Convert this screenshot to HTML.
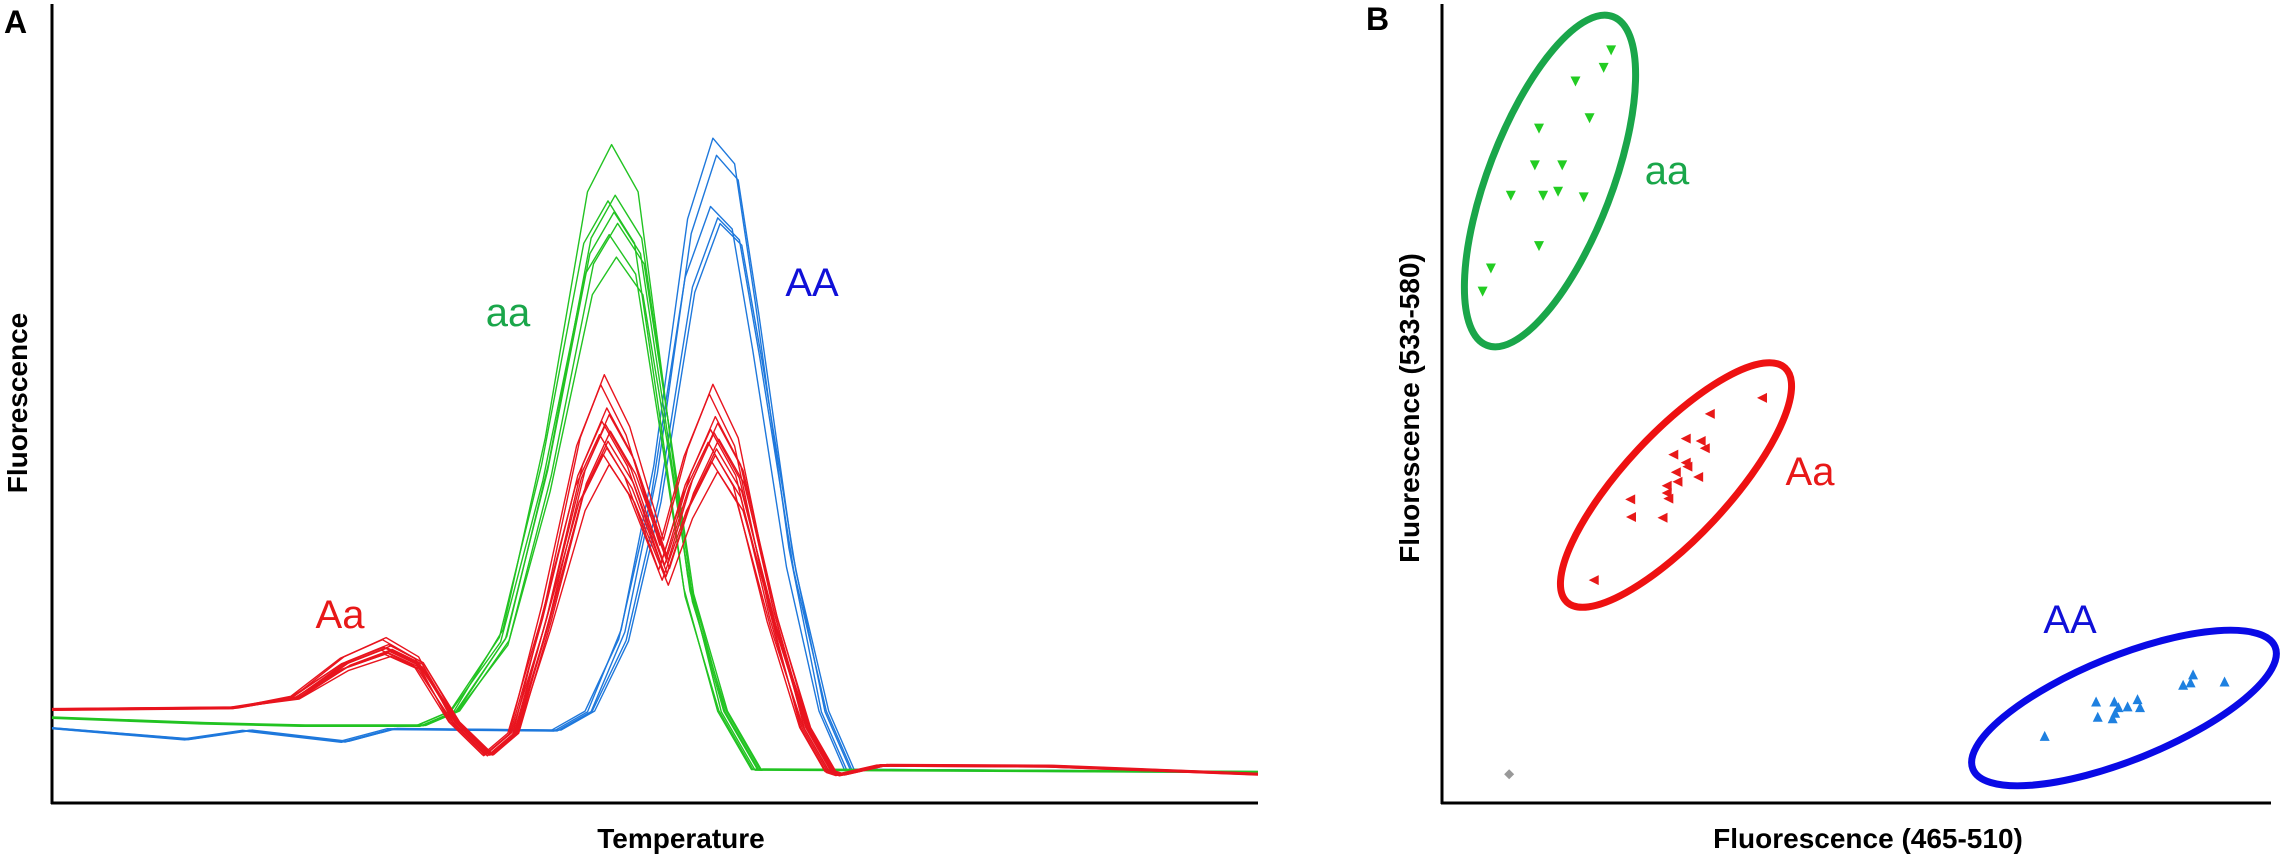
<!DOCTYPE html>
<html><head><meta charset="utf-8"><style>
html,body{margin:0;padding:0;background:#fff;}
svg{display:block;font-family:"Liberation Sans",sans-serif;}
</style></head><body>
<svg id="fig" width="2281" height="855" viewBox="0 0 2281 855">
<g id="pa">
<text x="4" y="33" font-size="32" font-weight="bold">A</text>
<line x1="52" y1="4" x2="52" y2="804" stroke="#000" stroke-width="3"/>
<line x1="51" y1="803" x2="1258" y2="803" stroke="#000" stroke-width="3"/>
<text x="681" y="848" font-size="28" font-weight="bold" text-anchor="middle">Temperature</text>
<text transform="translate(27,403) rotate(-90)" font-size="28" font-weight="bold" text-anchor="middle">Fluorescence</text>
<g id="curves"></g>
<text x="508" y="326" font-size="40" fill="#1aa64a" text-anchor="middle">aa</text>
<text x="812" y="296" font-size="40" fill="#1010d8" text-anchor="middle">AA</text>
<text x="340" y="628" font-size="40" fill="#e81818" text-anchor="middle">Aa</text>
</g>
<g id="pb">
<text x="1366" y="30" font-size="32" font-weight="bold">B</text>
<line x1="1442" y1="4" x2="1442" y2="804" stroke="#000" stroke-width="3"/>
<line x1="1441" y1="803" x2="2271" y2="803" stroke="#000" stroke-width="3"/>
<text x="1868" y="848" font-size="28" font-weight="bold" text-anchor="middle">Fluorescence (465-510)</text>
<text transform="translate(1419,408) rotate(-90)" font-size="28" font-weight="bold" text-anchor="middle">Fluorescence (533-580)</text>
<ellipse cx="1550" cy="181" rx="176" ry="62" transform="rotate(-69 1550 181)" fill="none" stroke="#1aa64a" stroke-width="7"/>
<ellipse cx="1676" cy="485" rx="160" ry="52" transform="rotate(-47 1676 485)" fill="none" stroke="#ee1111" stroke-width="7"/>
<ellipse cx="2124" cy="708" rx="163" ry="52" transform="rotate(-22 2124 708)" fill="none" stroke="#0a0ae6" stroke-width="7"/>
<g id="pts"></g>
<text x="1667" y="184" font-size="40" fill="#1aa64a" text-anchor="middle">aa</text>
<text x="1810" y="485" font-size="40" fill="#e81818" text-anchor="middle">Aa</text>
<text x="2070" y="633" font-size="40" fill="#1010d8" text-anchor="middle">AA</text>
</g>
</svg>
<script>
// Panel A data (temperature index 0-100, fluorescence 0-100)
const greenT = [0,12.3,20.6,30.5,33.3,37.4,40.9,44.4,46.4,48.6,50.7,52.7,55.5,58.3,100];
const greenF = [10.6,9.9,9.6,9.6,11.4,21.7,45.7,76.5,82.4,76.5,52.4,28.5,11.4,4.1,3.8];
const greenFactors = [1,0.91,0.9,0.88,0.86,0.84,0.8];
const greenShift = [0,0.3,-0.3,0.2,0.5,-0.2,0.4];
const blueT = [0,11,16,24,28,41.6,44.4,47.2,49.9,52.7,54.8,56.6,58.3,61.1,63.8,65.9,100];
const blueF = [9.3,7.9,9.0,7.6,9.2,9.0,11.4,21.7,42.2,73.1,83.2,80,62.8,31.9,11.4,4.1,3.8];
const blueFactors = [1,0.97,0.88,0.86,0.85];
const blueShift = [0,0.3,-0.2,0.4,0.6];
const redT = [0,15,20.1,24.2,27.7,30.4,33.3,36.1,38.2,40.9,43.8,45.8,47.9,50.7,52.7,54.8,56.9,59.7,62.4,64.5,65.3,68.8,82.7,100];
const redF = [11.6,11.8,13.4,18.3,20.7,18.3,10.0,5.9,8.6,25.0,45.7,53.6,47.1,32.9,44.3,52.4,45.7,25.0,9.3,3.8,3.4,4.6,4.5,3.5];
const redFactors = [1,0.97,0.9,0.88,0.86,0.85,0.83,0.82,0.8,0.78,0.76,0.73];
const redShift = [0,-0.3,0.2,0.4,-0.2,0.1,0.5,-0.4,0.3,0.2,-0.1,0.4];
// Panel B data (0-1000 both axes)
const aaX = [204,195,161,178,117,112,145,83,122,140,171,117,59,49];
const aaY = [942,920,903,857,844,798,798,760,760,765,758,697,669,640];
const AaX = [386,323,294,312,317,279,294,296,282,271,284,309,271,273,227,228,266,183];
const AaY = [507,487,456,453,444,436,426,421,414,397,402,408,388,381,380,358,357,279];
const AAX = [727,789,791,811,816,812,809,827,839,842,894,903,906,944];
const AAY = [84,127,108,127,120,113,106,121,130,120,148,151,161,152];
const ntcX = [81];
const ntcY = [36];

const NS="http://www.w3.org/2000/svg";
const ax = v => 52 + v*12.06;
const ay = v => 803 - v*7.99;
const bx = v => 1442 + v*0.829;
const by = v => 803 - v*0.799;

function drawGroup(T,F,factors,shifts,color,name){
  const g=document.getElementById('curves');
  factors.forEach((f,i)=>{
    const pts=T.map((t,j)=>{
      const yv = F[j] <= 12 ? F[j] + (1-f)*0.8 : 12 + f*(F[j]-12);
      const tv = (j===0||j===T.length-1)?t:t+shifts[i];
      return ax(tv).toFixed(1)+','+ay(yv).toFixed(1);
    }).join(' ');
    const p=document.createElementNS(NS,'polyline');
    p.setAttribute('points',pts);
    p.setAttribute('fill','none');
    p.setAttribute('stroke',color);
    p.setAttribute('stroke-width','1.4');
    p.setAttribute('stroke-linejoin','round');
    
    
    g.appendChild(p);
  });
}
drawGroup(blueT,blueF,blueFactors,blueShift,'#1e78dc','AA');
drawGroup(greenT,greenF,greenFactors,greenShift,'#22c322','aa');
drawGroup(redT,redF,redFactors,redShift,'#e8141e','Aa');

function tri(cx,cy,dir){
  const s=5;
  if(dir==='down') return [[cx-s,cy-s],[cx+s,cy-s],[cx,cy+s]];
  if(dir==='up') return [[cx-s,cy+s],[cx+s,cy+s],[cx,cy-s]];
  if(dir==='left') return [[cx+s,cy-s],[cx+s,cy+s],[cx-s,cy]];
  return [[cx,cy-s],[cx+s,cy],[cx,cy+s],[cx-s,cy]];
}
function drawPts(X,Y,dir,color,name){
  const g=document.getElementById('pts');
  X.forEach((x,i)=>{
    const p=document.createElementNS(NS,'polygon');
    p.setAttribute('points',tri(bx(x),by(Y[i]),dir).map(a=>a.join(',')).join(' '));
    p.setAttribute('fill',color);
    
    
    g.appendChild(p);
  });
}
drawPts(aaX,aaY,'down','#22cc22','aa');
drawPts(AaX,AaY,'left','#e81818','Aa');
drawPts(AAX,AAY,'up','#1e80e0','AA');
drawPts(ntcX,ntcY,'diamond','#999999','ntc');
</script>
</body></html>
